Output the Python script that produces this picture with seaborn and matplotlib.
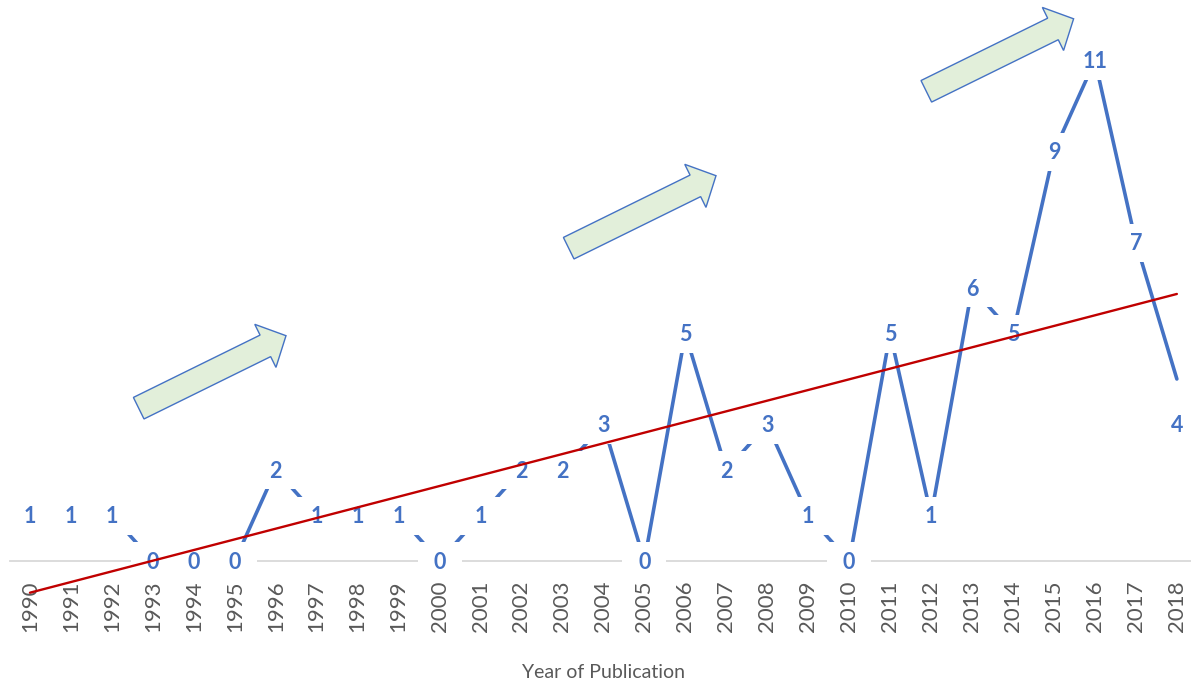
import numpy as np
import pandas as pd
import matplotlib
matplotlib.use("Agg")
import matplotlib.pyplot as plt
import seaborn as sns
from matplotlib.patches import Rectangle, Polygon
from matplotlib.transforms import ScaledTranslation, Affine2D

# Publications per year
years = [str(y) for y in range(1990, 2019)]
publications = [1, 1, 1, 0, 0, 0, 2, 1, 1, 1, 0, 1, 2, 2, 3,
                0, 5, 2, 3, 1, 0, 5, 1, 6, 5, 9, 11, 7, 4]

# label nudges (pixels, positive = up)
label_shift_px = {"2018": -45}

BLUE = "#4472C4"
RED = "#C00000"
GREY_TXT = "#595959"
GRID = "#D9D9D9"
ARROW_FILL = "#E2EFDA"

sns.set_theme(style="white")
plt.rcParams["font.family"] = ["Lato", "DejaVu Sans"]

W, H, DPI = 1191, 685, 100
fig = plt.figure(figsize=(W / DPI, H / DPI), dpi=DPI)
fig.patch.set_facecolor("white")

# plot area geometry in pixels
left_px, right_px, base_px = 9.5, 1191.0, 561.0
unit_px = 45.5      # pixels per publication
step_px = 40.96     # pixels per year
ax = fig.add_axes([left_px / W, (H - base_px) / H,
                   (right_px - left_px) / W, base_px / H])
ax.set_facecolor("none")

idx = np.arange(len(years))
df = pd.DataFrame({"idx": idx, "year": years, "count": publications})

sns.lineplot(data=df, x="idx", y="count", ax=ax, color=BLUE,
             linewidth=2.6, zorder=3)
sns.regplot(data=df, x="idx", y="count", ax=ax, scatter=False, ci=None,
            truncate=True, line_kws=dict(color=RED, linewidth=1.7, zorder=6))
for ln in ax.lines:
    ln.set_clip_on(False)

ax.set_xlim(-0.5, -0.5 + (right_px - left_px) / step_px)
ax.set_ylim(0, base_px / unit_px)

for side in ("top", "left", "right"):
    ax.spines[side].set_visible(False)
ax.spines["bottom"].set_color(GRID)
ax.spines["bottom"].set_linewidth(1.3)

ax.set_xticks(idx, years, rotation=90)
ax.tick_params(axis="x", length=0, pad=13.7, labelsize=16, labelcolor=GREY_TXT)
ax.set_yticks([])
ax.set_xlabel("")
ax.set_ylabel("")

# data labels with white backing boxes
to_in = 1.0 / DPI
label_fs = 15.5
for i, (v, yr) in enumerate(zip(publications, years)):
    text = str(v)
    dy = label_shift_px.get(yr, 0)
    hw = 22 + 5.5 * (len(text) - 1)
    hh = 19
    trans = fig.dpi_scale_trans + ScaledTranslation(i, v, ax.transData)
    ax.add_artist(Rectangle((-hw * to_in, (dy - hh) * to_in),
                            2 * hw * to_in, 2 * hh * to_in, transform=trans,
                            facecolor="white", edgecolor="none", zorder=4,
                            clip_on=False))
    # digits centred on the point: baseline sits half a digit height below
    ax.annotate(text, (i, v),
                xytext=(0, dy * 72 / DPI - 0.36 * label_fs),
                textcoords="offset points", ha="center", va="baseline",
                fontsize=label_fs, fontweight="bold", color=BLUE, zorder=5,
                annotation_clip=False)

# growth arrows (pixel geometry, y measured from the top)
arrow_tails = [(138.7, 408.2), (568.7, 248.2), (926.3, 91.3)]
arrow_vec = np.array([147.3, -72.5])
shaft_w, head_w, head_l = 24.0, 48.0, 23.0
px_trans = Affine2D().scale(1.0 / DPI) + fig.dpi_scale_trans
L = np.hypot(*arrow_vec)
u = arrow_vec / L
n = np.array([-u[1], u[0]])
for tx, ty in arrow_tails:
    t = np.array([tx, ty])
    tip = t + u * L
    base = t + u * (L - head_l)
    pts = [t - n * shaft_w / 2, base - n * shaft_w / 2, base - n * head_w / 2,
           tip, base + n * head_w / 2, base + n * shaft_w / 2,
           t + n * shaft_w / 2]
    pts = [(p[0], H - p[1]) for p in pts]
    fig.add_artist(Polygon(pts, closed=True, transform=px_trans,
                           facecolor=ARROW_FILL, edgecolor=BLUE,
                           linewidth=1.0, zorder=7))

fig.text(603 / W, 1 - 672 / H, "Year of Publication", ha="center",
         va="center", fontsize=14, color=GREY_TXT)

fig.savefig("out.png", dpi=DPI)
